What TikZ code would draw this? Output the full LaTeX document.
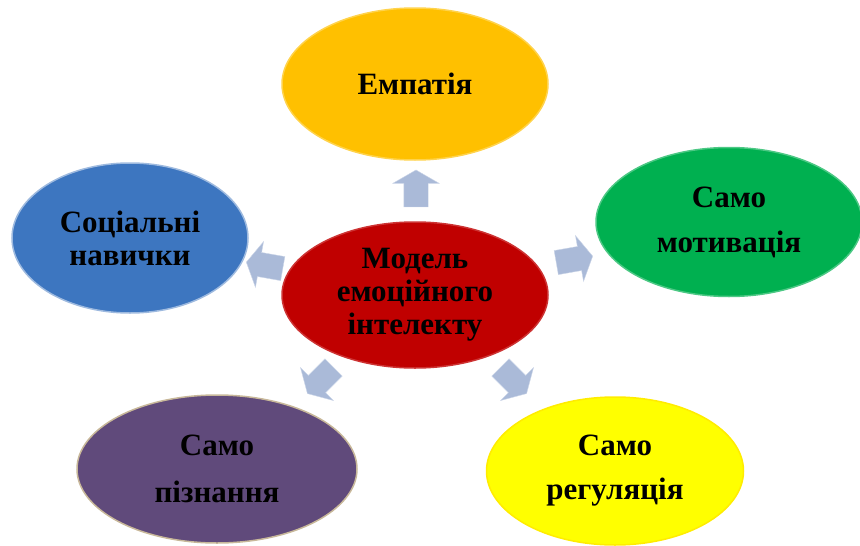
\documentclass[tikz,border=0pt]{standalone}
\usepackage{fontspec}
\setmainfont{Liberation Serif}
\usetikzlibrary{shapes.geometric,shapes.arrows}
\definecolor{bubOrange}{RGB}{255,192,0}
\definecolor{bubGreen}{RGB}{0,176,80}
\definecolor{bubBlue}{RGB}{61,118,192}
\definecolor{bubRed}{RGB}{192,0,0}
\definecolor{bubPurple}{RGB}{96,74,123}
\definecolor{bubYellow}{RGB}{255,255,0}
\definecolor{arrFill}{RGB}{170,186,216}
\tikzset{
  bubble/.style = {ellipse, align=center, inner sep=0pt, text centered,
    font=\bfseries\fontsize{31}{33}\selectfont, text=black, line width=1.5pt},
  bub_o/.style = {bubble, fill=bubOrange, draw=bubOrange!70!white,
    minimum width=266pt, minimum height=152pt},% emphasis, top
  bub_g/.style = {bubble, fill=bubGreen, draw=bubGreen!70!white,
    minimum width=266pt, minimum height=149pt},% right
  bub_b/.style = {bubble, fill=bubBlue, draw=bubBlue!50!white,
    minimum width=236pt, minimum height=150pt},% left
  bub_r/.style = {bubble, fill=bubRed, draw=bubRed!80!white,
    minimum width=266pt, minimum height=146pt},% centre
  bub_p/.style = {bubble, fill=bubPurple, draw={rgb,255:red,200;green,184;blue,154},
    minimum width=280pt, minimum height=148pt},% bottom left
  bub_y/.style = {bubble, fill=bubYellow, draw=bubYellow!85!orange,
    minimum width=257pt, minimum height=148pt},% bottom right
  blk_arr/.style = {single arrow, fill=arrFill, draw=arrFill!60!white,
    inner sep=12pt, minimum height=37pt,
    single arrow head extend=11pt, single arrow tip angle=120}% block arrow
}
\begin{document}
\begin{tikzpicture}[x=1pt,y=-1pt]
\useasboundingbox (0,0) rectangle (860,546);
\node [bub_o] (emp) at (415,84)  {Емпатія};
\node [bub_g] (mot) at (729,222) {Само\\[12pt]мотивація};
\node [bub_b] (nav) at (130,238) {Соціальні\\навички};
\node [bub_r] (mdl) at (415,295) {Модель\\емоційного\\інтелекту};
\node [bub_p] (piz) at (217,469) {Само\\[14pt]пізнання};
\node [bub_y] (reg) at (615,471) {Само\\[11pt]регуляція};
% arrows from the centre
\node [blk_arr, rotate=90]  (a_emp) at (416,192) {};
\node [blk_arr, rotate=10]  (a_mot) at (571,260) {};
\node [blk_arr, rotate=170] (a_nav) at (268,266) {};
\node [blk_arr, rotate=225] (a_piz) at (323,378) {};
\node [blk_arr, rotate=-45] (a_reg) at (511,378) {};
\end{tikzpicture}
\end{document}
